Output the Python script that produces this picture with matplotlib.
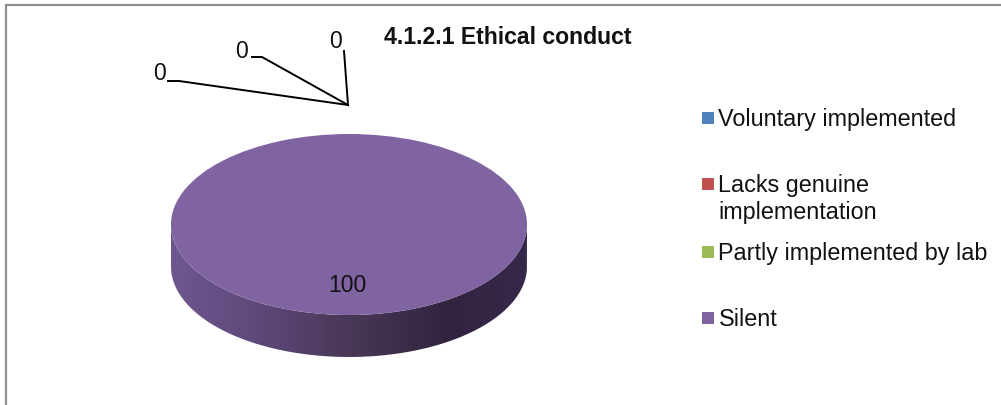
import numpy as np
import matplotlib
matplotlib.use("Agg")
import matplotlib.pyplot as plt
from matplotlib.patches import Rectangle, PathPatch
from matplotlib.path import Path
from matplotlib.colors import LinearSegmentedColormap

plt.rcParams['font.family'] = ['Liberation Sans', 'DejaVu Sans']

title = "4.1.2.1 Ethical conduct"
categories = ["Voluntary implemented", "Lacks genuine\nimplementation",
              "Partly implemented by lab", "Silent"]
values = [0, 0, 0, 100]
colors = ["#4F81BD", "#C0504D", "#9BBB59", "#8064A2"]

W, H = 1001, 405
fig = plt.figure(figsize=(W / 100, H / 100), dpi=100, facecolor="white")
ax = fig.add_axes([0, 0, 1, 1])
ax.set_xlim(0, W)
ax.set_ylim(H, 0)
ax.axis("off")

# frame (top and left edges visible)
ax.plot([6, W], [5, 5], color="#8f8f8f", lw=1.6, solid_capstyle="butt")
ax.plot([6, 6], [4, H], color="#8f8f8f", lw=1.6, solid_capstyle="butt")

# pie geometry
cx, cy, rx, ry, depth = 349, 224.5, 178, 90.5, 42

# side wall with gradient
t = np.linspace(np.pi, 0, 200)
xs = cx + rx * np.cos(t)
ys = cy + ry * np.sin(t)
poly = np.vstack([np.c_[xs, ys], np.c_[xs[::-1], ys[::-1] + depth]])
clip = PathPatch(Path(np.vstack([poly, poly[0]])), transform=ax.transData, fc="none", ec="none")
ax.add_patch(clip)
cmap = LinearSegmentedColormap.from_list(
    "side", [(0, "#6F5690"), (0.22, "#5F4A7C"), (0.5, "#493858"), (0.77, "#32243F"), (1, "#36284A")])
im = ax.imshow(np.linspace(0, 1, 356)[None, :], extent=(cx - rx, cx + rx, cy + ry + depth, cy),
               cmap=cmap, aspect="auto", zorder=2)
im.set_clip_path(clip)
ax.set_xlim(0, W)
ax.set_ylim(H, 0)

# top face
pax = fig.add_axes([(cx - rx) / W, 1 - (cy + ry) / H, 2 * rx / W, 2 * ry / H])
pax.pie(values, colors=colors, radius=1, startangle=90, counterclock=False)
pax.set_aspect("auto")
pax.set_xlim(-1, 1)
pax.set_ylim(-1, 1)
pax.patch.set_alpha(0)

# top-level overlay for text
ox = fig.add_axes([0, 0, 1, 1], zorder=5)
ox.set_xlim(0, W)
ox.set_ylim(H, 0)
ox.axis("off")

ox.text(384, 38, title, fontsize=16.6, fontweight="bold", ha="left", va="center", color="#111111")

# data labels with leader lines
anchor = (348, 105)
leaders = [((168, 81), (179, 81)), ((252, 57), (262, 57)), None]
lab_pos = [(159, 74), (241, 51), (335, 41)]
for v, lead, pos in zip(values[:3], leaders, lab_pos):
    ox.text(pos[0], pos[1], str(v), fontsize=16.5, ha="center", va="center", color="#111111")
    if lead:
        ox.plot([lead[0][0], lead[1][0], anchor[0]], [lead[0][1], lead[1][1], anchor[1]],
                color="black", lw=1.4)
    else:
        ox.plot([344, anchor[0]], [51, anchor[1]], color="black", lw=1.4)
ox.text(347, 285, str(values[3]), fontsize=16.5, ha="center", va="center", color="#111111")

# legend
ys_leg = [118, 184, 252, 318]
for lab, c, y in zip(categories, colors, ys_leg):
    ox.add_patch(Rectangle((702, y - 6), 12, 12, fc=c, ec="none"))
    ox.text(718.5, y - 10, lab, fontsize=16.8, ha="left", va="top", color="#111111", linespacing=1.24)

fig.savefig("out.png", dpi=100, facecolor="white")
